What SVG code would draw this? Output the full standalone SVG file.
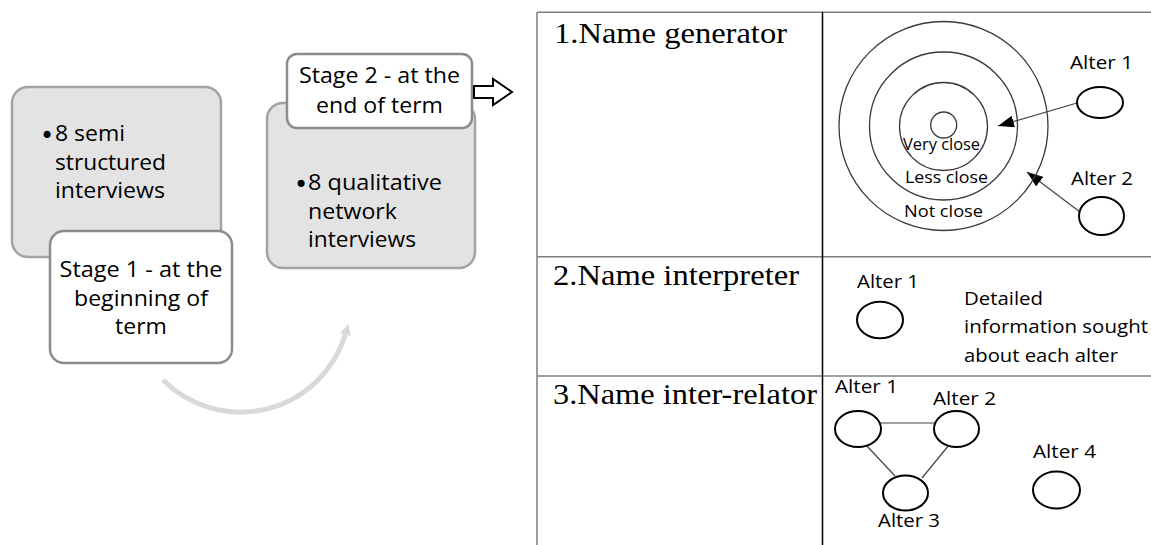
<svg xmlns="http://www.w3.org/2000/svg" width="1151" height="545" viewBox="0 0 1151 545">
<style>
.sans{font-family:"Open Sans","Liberation Sans",sans-serif;fill:#000}
.serif{font-family:"Liberation Serif","Times New Roman",serif;font-size:30px;fill:#000}
.bul{font-family:"DejaVu Sans",sans-serif;font-size:24px;fill:#000}
.t21{font-size:21px}
.t19{font-size:19px}
.t16{font-size:16px}
.gbox{fill:#e3e3e3;stroke:#a3a3a3;stroke-width:2.5}
.wbox{fill:#fff;stroke:#8c8c8c;stroke-width:2.5}
.tl{stroke:#7f7f7f;stroke-width:1.5;fill:none}
.ring{fill:none;stroke:#3a3a3a;stroke-width:1.3}
.alt{fill:#fff;stroke:#000;stroke-width:2}
.edge{stroke:#444;stroke-width:1.2;fill:none}
</style>
<defs>
<marker id="ah" markerUnits="userSpaceOnUse" markerWidth="16" markerHeight="12" viewBox="0 0 16 12" refX="16" refY="6" orient="auto">
<path d="M0,0 L16,6 L0,12 z" fill="#000"/>
</marker>
</defs>

<g id="stage1-content">
<rect class="gbox" x="12" y="87" width="209" height="170" rx="16"/>
<text class="bul" x="40" y="144">•</text>
<text class="sans t21" x="55" y="141" textLength="70" lengthAdjust="spacingAndGlyphs">8 semi</text>
<text class="sans t21" x="55" y="169.5" textLength="111" lengthAdjust="spacingAndGlyphs">structured</text>
<text class="sans t21" x="55" y="198" textLength="110" lengthAdjust="spacingAndGlyphs">interviews</text>
</g>
<g id="stage1-label">
<rect class="wbox" x="50" y="231" width="182" height="132" rx="14"/>
<text class="sans t21" x="141" y="277" text-anchor="middle" textLength="163" lengthAdjust="spacingAndGlyphs">Stage 1 - at the</text>
<text class="sans t21" x="141" y="305.5" text-anchor="middle" textLength="134" lengthAdjust="spacingAndGlyphs">beginning of</text>
<text class="sans t21" x="141" y="334" text-anchor="middle" textLength="52" lengthAdjust="spacingAndGlyphs">term</text>
</g>

<g id="stage2-content">
<rect class="gbox" x="267" y="103" width="208" height="165" rx="16"/>
<text class="bul" x="294" y="193">•</text>
<text class="sans t21" x="308" y="190" textLength="134" lengthAdjust="spacingAndGlyphs">8 qualitative</text>
<text class="sans t21" x="308" y="218.5" textLength="89" lengthAdjust="spacingAndGlyphs">network</text>
<text class="sans t21" x="308" y="247" textLength="108" lengthAdjust="spacingAndGlyphs">interviews</text>
</g>
<g id="stage2-label">
<rect class="wbox" x="287" y="54" width="185" height="74" rx="10"/>
<text class="sans t21" x="379.5" y="83" text-anchor="middle" textLength="161" lengthAdjust="spacingAndGlyphs">Stage 2 - at the</text>
<text class="sans t21" x="379.5" y="113" text-anchor="middle" textLength="127" lengthAdjust="spacingAndGlyphs">end of term</text>
</g>

<g id="connectors">
<path d="M163,380 A109.6,109.6 0 0 0 345.3,334.5" fill="none" stroke="#d9d9d9" stroke-width="5"/>
<polygon points="348.6,324 350.6,336.1 340,332.9" fill="#d9d9d9"/>
<polygon points="474,86 493,86 493,79 512,92 493,105 493,98 474,98" fill="#fff" stroke="#000" stroke-width="2" stroke-linejoin="miter"/>
<line class="edge" x1="1077" y1="103" x2="998" y2="126" marker-end="url(#ah)"/>
<line class="edge" x1="1080" y1="212" x2="1027" y2="172" marker-end="url(#ah)"/>
<line class="edge" x1="881" y1="423" x2="934" y2="423"/>
<line class="edge" x1="866" y1="445" x2="895" y2="476"/>
<line class="edge" x1="949" y1="445" x2="922" y2="478"/>
</g>

<g id="table">
<line class="tl" x1="537" y1="12.3" x2="1151" y2="12.3"/>
<line class="tl" x1="537" y1="12" x2="537" y2="545"/>
<line class="tl" x1="537" y1="256.7" x2="1151" y2="256.7"/>
<line class="tl" x1="537" y1="376" x2="1151" y2="376"/>
<line x1="822.5" y1="12" x2="822.5" y2="545" stroke="#000" stroke-width="1.5"/>
<text class="serif" x="554" y="43" textLength="233" lengthAdjust="spacingAndGlyphs">1.Name generator</text>
<text class="serif" x="553" y="285" textLength="246" lengthAdjust="spacingAndGlyphs">2.Name interpreter</text>
<text class="serif" x="553" y="404" textLength="264" lengthAdjust="spacingAndGlyphs">3.Name inter-relator</text>
</g>

<g id="circles">
<circle class="ring" cx="943.5" cy="126" r="104.5"/>
<circle class="ring" cx="943.5" cy="126" r="74"/>
<circle class="ring" cx="943.5" cy="126.5" r="44"/>
<circle class="ring" cx="943.7" cy="125" r="13"/>
<text class="sans t16" x="903" y="150" textLength="77" lengthAdjust="spacingAndGlyphs">Very close</text>
<text class="sans t16" x="905" y="183" textLength="83" lengthAdjust="spacingAndGlyphs">Less close</text>
<text class="sans t16" x="904" y="217" textLength="79" lengthAdjust="spacingAndGlyphs">Not close</text>
</g>
<g id="gen-alter1">
<text class="sans t19" x="1070" y="69" textLength="63" lengthAdjust="spacingAndGlyphs">Alter 1</text>
<ellipse class="alt" cx="1100" cy="102.5" rx="23" ry="15.5"/>
</g>
<g id="gen-alter2">
<text class="sans t19" x="1071" y="185" textLength="62" lengthAdjust="spacingAndGlyphs">Alter 2</text>
<ellipse class="alt" cx="1101.5" cy="216" rx="22.5" ry="19"/>
</g>

<g id="int-alter1">
<text class="sans t19" x="857" y="288" textLength="62" lengthAdjust="spacingAndGlyphs">Alter 1</text>
<ellipse class="alt" cx="880" cy="320" rx="23" ry="18.3"/>
</g>
<g id="int-text">
<text class="sans t19" x="964" y="305" textLength="79" lengthAdjust="spacingAndGlyphs">Detailed</text>
<text class="sans t19" x="964" y="333.3" textLength="184" lengthAdjust="spacingAndGlyphs">information sought</text>
<text class="sans t19" x="964" y="361.7" textLength="154" lengthAdjust="spacingAndGlyphs">about each alter</text>
</g>

<g id="rel-alter1">
<text class="sans t19" x="835" y="393" textLength="63" lengthAdjust="spacingAndGlyphs">Alter 1</text>
<ellipse class="alt" cx="858" cy="429" rx="23" ry="18"/>
</g>
<g id="rel-alter2">
<text class="sans t19" x="933" y="405" textLength="63" lengthAdjust="spacingAndGlyphs">Alter 2</text>
<ellipse class="alt" cx="956.5" cy="429" rx="22.5" ry="18"/>
</g>
<g id="rel-alter3">
<ellipse class="alt" cx="905.5" cy="493" rx="22.5" ry="17.5"/>
<text class="sans t19" x="878" y="527" textLength="62" lengthAdjust="spacingAndGlyphs">Alter 3</text>
</g>
<g id="rel-alter4">
<text class="sans t19" x="1033" y="458" textLength="63" lengthAdjust="spacingAndGlyphs">Alter 4</text>
<ellipse class="alt" cx="1056.5" cy="490" rx="23.5" ry="18.5"/>
</g>
</svg>
